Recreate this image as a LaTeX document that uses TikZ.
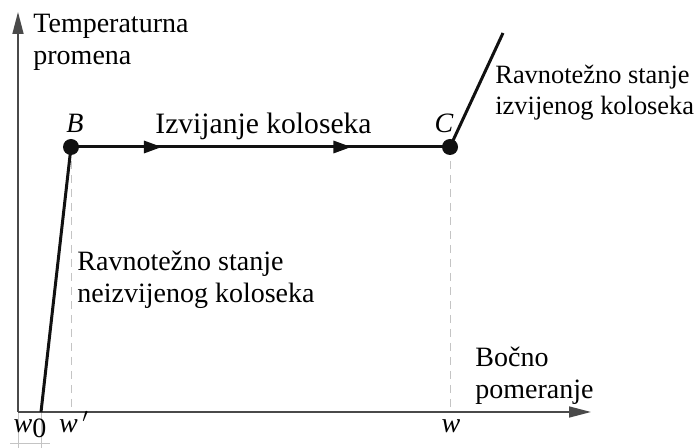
\documentclass[tikz,border=0pt]{standalone}
\usepackage{fontspec}
\setmainfont{Liberation Serif}
\usepackage{xcolor}
\usetikzlibrary{arrows.meta,decorations.markings}
\definecolor{axisgray}{HTML}{4A4A4A}
\definecolor{guidegray}{HTML}{C4C4C4}
\definecolor{curveblack}{HTML}{111111}
\tikzset{
  axis/.style={draw=axisgray, line width=0.8pt, -{Triangle[length=11pt, width=5.5pt]}},
  guide/.style={draw=guidegray, line width=0.4pt, dash pattern=on 4pt off 3pt},
  dimline/.style={draw=guidegray, line width=0.4pt},
  curve/.style={draw=curveblack, line width=1.5pt},
  flow/.style={postaction={decorate}, decoration={markings,
      mark=at position 0.24 with {\arrow{Triangle[length=9pt, width=6pt]}},
      mark=at position 0.74 with {\arrow{Triangle[length=9pt, width=6pt]}}}},
  dot/.style={circle, fill=curveblack, inner sep=0pt, minimum size=8pt},
  lbl/.style={font=\fontsize{14}{16}\selectfont, inner sep=0pt, align=left, anchor=north west},
  pt/.style={font=\fontsize{14}{16}\selectfont\itshape, inner sep=0pt, anchor=base},
}

\begin{document}
\begin{tikzpicture}[x=0.5pt, y=-0.5pt]
  \useasboundingbox (0,0) rectangle (696,448);

  \coordinate (O) at (18,412);
  \coordinate (yend) at (18,12);
  \coordinate (xend) at (591,412);
  \coordinate (W0) at (41,412);
  \coordinate (Wp) at (71,412);
  \coordinate (W) at (450,412);
  \coordinate (B) at (71,147);
  \coordinate (C) at (450,147);
  \coordinate (top) at (503,33);

  % guides and the w0 mark
  \draw[guide] (B) -- (Wp);
  \draw[guide] (C) -- (W);
  \draw[dimline] (O) -- (18,448);
  \draw[dimline] (W0) -- (41,448);
  \draw[dimline] (10,443) -- (50,443);

  \draw[axis] (O) -- (yend);
  \draw[axis] (O) -- (xend);

  \draw[curve] (W0) -- (B);
  \draw[curve, flow] (B) -- (C);
  \draw[curve] (C) -- (top);
  \node[dot] (Bdot) at (B) {};
  \node[dot] (Cdot) at (C) {};

  \node[pt] (Blbl) at (75,133) {B};
  \node[pt] (Clbl) at (444,133) {C};
  \node[pt] (w0lbl) at (30,433) {w\raisebox{-0.35ex}{\upshape 0}};
  \node[pt] (wplbl) at (74,433) {w$\,'$};
  \node[pt] (wlbl) at (451,433) {w};

  \node[lbl] (ylbl) at (33,14) {Temperaturna\\promena};
  \node[lbl] (xlbl) at (475,347) {Bočno\\pomeranje};
  \node[lbl, font=\fontsize{14.8}{16}\selectfont] (buck) at (155,113) {Izvijanje koloseka};
  \node[lbl] (unbuck) at (77,251) {Ravnotežno stanje\\neizvijenog koloseka};
  \node[lbl, font=\fontsize{13.2}{15.5}\selectfont] (postbuck) at (495,65) {Ravnotežno stanje\\izvijenog koloseka};
\end{tikzpicture}
\end{document}
